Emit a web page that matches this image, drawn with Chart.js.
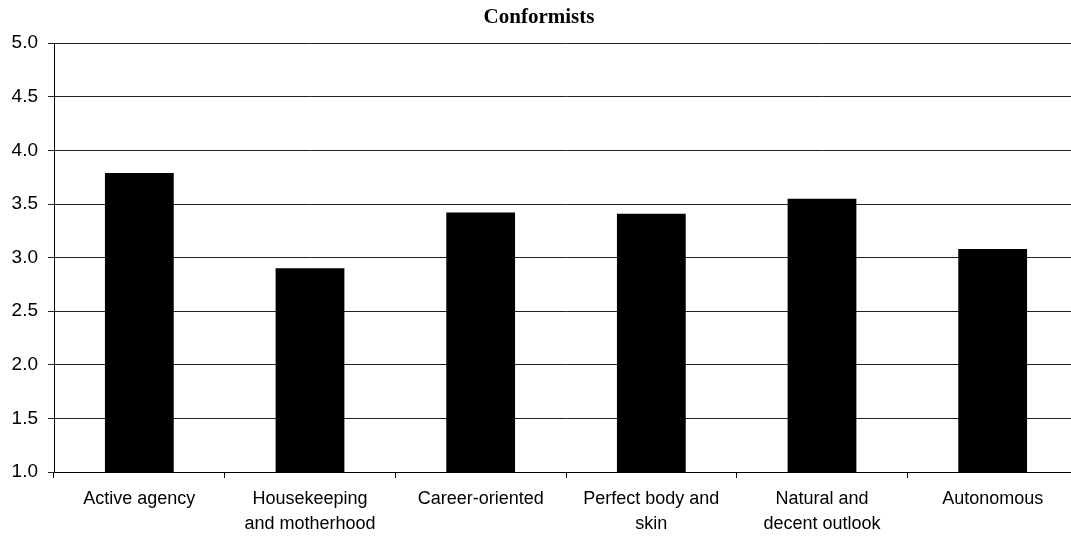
<!DOCTYPE html>
<html>
<head>
<meta charset="utf-8">
<script src="https://cdn.jsdelivr.net/npm/chart.js@4/dist/chart.umd.min.js"></script>
<style>
  html, body { margin: 0; padding: 0; background: #fff; overflow: hidden; }
  #wrap { width: 1078px; height: 539px; }
</style>
</head>
<body>
<div id="wrap"><canvas id="myChart" width="1078" height="539"></canvas></div>
<script>
var categories = [
  "Active agency",
  ["Housekeeping", "and motherhood"],
  "Career-oriented",
  ["Perfect body and", "skin"],
  ["Natural and", "decent outlook"],
  "Autonomous",
];
var scores = [3.79, 2.90, 3.42, 3.41, 3.55, 3.08];
var yTicks = [1.0, 1.5, 2.0, 2.5, 3.0, 3.5, 4.0, 4.5, 5.0];

var ctx = document.getElementById("myChart").getContext("2d");
var myChart = new Chart(ctx, {
  type: "bar",
  data: {
    labels: categories,
    datasets: [
      {
        label: "Conformists",
        data: scores,
        backgroundColor: "#000000",
        borderWidth: 0,
        barPercentage: 0.403,
        categoryPercentage: 1,
      },
    ],
  },
  options: {
    responsive: false,
    animation: false,
    layout: {
      padding: { left: 0, right: 0, top: 0, bottom: 0 },
    },
    plugins: {
      legend: { display: false },
      tooltip: { enabled: false },
      title: {
        display: true,
        text: "Conformists",
        color: "#000",
        font: { family: "Liberation Serif", size: 21, weight: "bold" },
        padding: { top: 5, bottom: 13 },
      },
    },
    scales: {
      x: {
        offset: true,
        grid: {
          display: true,
          drawOnChartArea: false,
          offset: true,
          color: "#000",
          tickLength: 6,
        },
        border: { display: true, color: "#000", width: 1 },
        ticks: {
          color: "#000",
          font: { family: "Liberation Sans", size: 18, lineHeight: 1.4 },
          maxRotation: 0,
          autoSkip: false,
          padding: 8,
        },
        afterFit: function (scale) {
          scale.height = 67;
        },
      },
      y: {
        type: "linear",
        min: 1,
        max: 5,
        afterBuildTicks: function (scale) {
          scale.ticks = yTicks.map(function (v) { return { value: v }; });
        },
        grid: {
          color: "#222",
          lineWidth: 1,
          tickLength: 6,
        },
        border: { display: true, color: "#000", width: 1 },
        ticks: {
          color: "#000",
          font: { family: "Liberation Sans", size: 19 },
          padding: 10,
          callback: function (v) { return Number(v).toFixed(1); },
        },
        afterFit: function (scale) {
          scale.width = 54;
        },
      },
    },
  },
});
</script>
</body>
</html>
